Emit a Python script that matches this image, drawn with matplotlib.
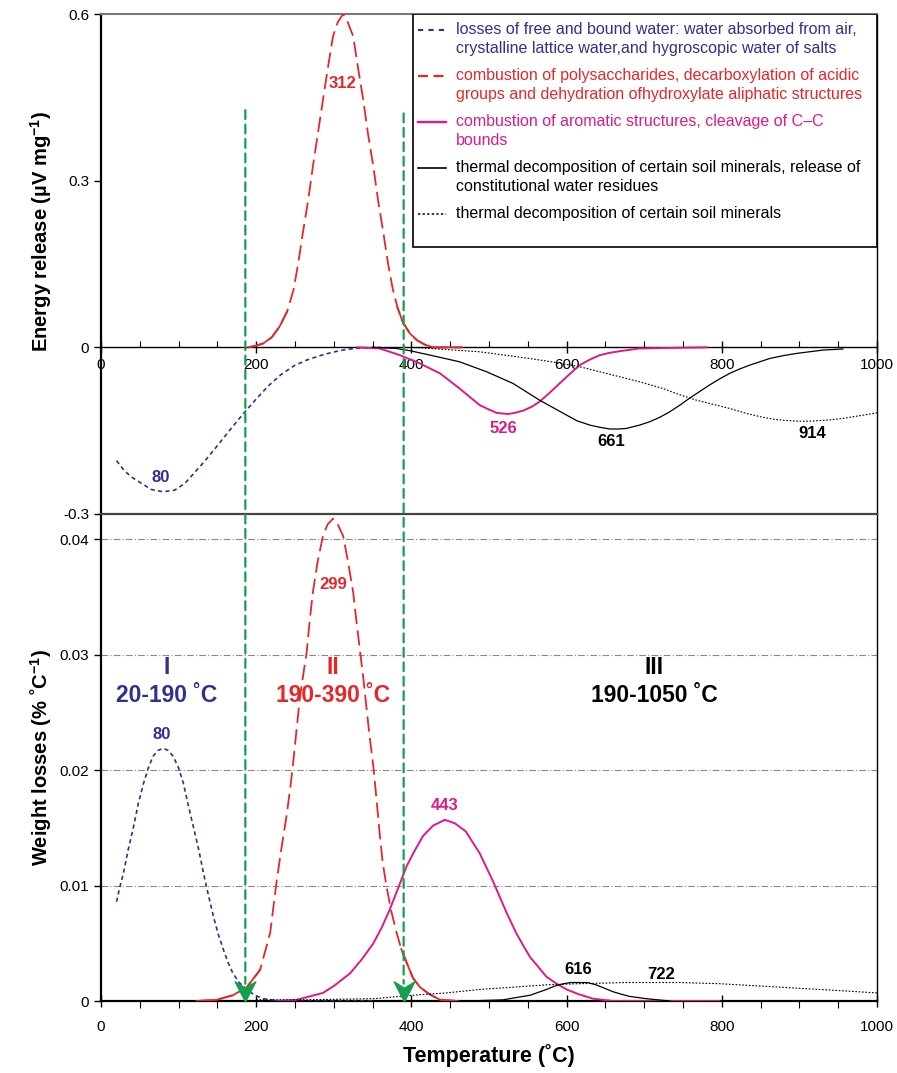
import numpy as np
import matplotlib
matplotlib.use("Agg")
from matplotlib import pyplot as plt
from matplotlib.patches import ConnectionPatch, Rectangle
from matplotlib.path import Path
from matplotlib.ticker import MultipleLocator, FixedLocator, FixedFormatter
import matplotlib.transforms as mtransforms

plt.rcParams['font.family'] = ['Liberation Sans', 'DejaVu Sans']
plt.rcParams['mathtext.fontset'] = 'custom'
plt.rcParams['mathtext.rm'] = 'Liberation Sans'
plt.rcParams['mathtext.bf'] = 'Liberation Sans:bold'

BLUE = '#2e3192'
RED = '#e8262a'
PINK = '#e0198a'
GREEN = '#12a04c'

# ---- energy release (DTA, top panel)
water_e_x = [20, 30, 40, 50, 65, 80, 95, 108, 117, 133, 150, 166, 183, 200, 216, 232,
             249, 265, 282, 298, 315, 328, 340, 360]
water_e_y = [-0.204, -0.222, -0.234, -0.243, -0.256, -0.26, -0.257, -0.245, -0.231,
             -0.206, -0.177, -0.149, -0.12, -0.093, -0.069, -0.049, -0.033, -0.023,
             -0.015, -0.009, -0.004, -0.002, -0.001, 0.0]

poly_e_x = [190, 200, 209, 220, 230, 240, 248, 254, 260, 267, 273, 280, 286, 292, 299,
            305, 312, 318, 325, 331, 338, 344, 351, 357, 364, 370, 376, 382, 389, 398,
            407, 417, 428, 465]
poly_e_y = [0.0, 0.003, 0.007, 0.018, 0.037, 0.065, 0.103, 0.15, 0.205, 0.265, 0.325,
            0.39, 0.445, 0.50, 0.56, 0.585, 0.6, 0.585, 0.56, 0.505, 0.445, 0.385,
            0.325, 0.265, 0.205, 0.15, 0.105, 0.072, 0.045, 0.025, 0.013, 0.005, 0.0,
            0.0]

arom_e_x = [330, 359, 385, 411, 437, 462, 488, 500, 510, 517, 525, 533, 544, 555, 565,
            578, 591, 604, 617, 630, 643, 655, 668, 694, 780]
arom_e_y = [0.0, -0.002, -0.014, -0.029, -0.047, -0.074, -0.104, -0.112, -0.118,
            -0.119, -0.120, -0.118, -0.114, -0.107, -0.098, -0.082, -0.065, -0.048,
            -0.032, -0.022, -0.014, -0.010, -0.007, -0.002, 0.0]

mineral_e_x = [350, 380, 398, 424, 462, 497, 531, 565, 600, 613, 630, 643, 656, 667,
               677, 694, 707, 720, 733, 746, 758, 771, 784, 797, 810, 823, 836, 849,
               862, 879, 896, 913, 930, 956]
mineral_e_y = [0.0, -0.002, -0.006, -0.014, -0.026, -0.044, -0.065, -0.095, -0.122,
               -0.132, -0.14, -0.144, -0.147, -0.147, -0.146, -0.14, -0.134, -0.126,
               -0.116, -0.104, -0.092, -0.080, -0.068, -0.057, -0.047, -0.039, -0.032,
               -0.026, -0.020, -0.015, -0.011, -0.008, -0.005, -0.003]

soil_e_x = [400, 424, 456, 488, 520, 552, 585, 617, 640, 660, 694, 724, 745, 767, 790,
            810, 832, 853, 870, 887, 900, 914, 935, 956, 978, 1000]
soil_e_y = [0.0, -0.002, -0.005, -0.008, -0.014, -0.020, -0.027, -0.035, -0.043,
            -0.050, -0.062, -0.074, -0.085, -0.095, -0.103, -0.110, -0.119, -0.126,
            -0.130, -0.132, -0.133, -0.133, -0.131, -0.128, -0.123, -0.118]

# ---- weight losses (DTG, bottom panel)
water_w_x = [20, 24, 29, 35, 42, 48, 55, 61, 67, 73, 80, 87, 93, 100, 106, 112, 119,
             126, 132, 138, 145, 151, 158, 164, 170, 178, 188, 198, 209, 231, 350]
water_w_y = [0.0086, 0.0098, 0.0111, 0.0131, 0.0151, 0.0171, 0.0189, 0.0202, 0.0212,
             0.0217, 0.0219, 0.0217, 0.0212, 0.0202, 0.0189, 0.0171, 0.0151, 0.0131,
             0.0111, 0.0093, 0.0073, 0.0058, 0.0044, 0.0033, 0.0024, 0.0016, 0.001,
             0.0005, 0.0002, 0.0, 0.0]

poly_w_x = [123, 149, 170, 188, 205, 218, 226, 232, 239, 244, 248, 252, 256, 260, 265,
            269, 273, 279, 286, 292, 299, 305, 312, 318, 325, 329, 334, 338, 342, 346,
            351, 355, 359, 363, 368, 374, 381, 387, 394, 402, 411, 423, 437, 460]
poly_w_y = [0.0, 0.0001, 0.0005, 0.0012, 0.0027, 0.0059, 0.0102, 0.013, 0.016, 0.0185,
            0.0209, 0.0235, 0.0261, 0.028, 0.0302, 0.033, 0.0354, 0.038, 0.0403, 0.0413,
            0.0418, 0.0413, 0.0403, 0.0382, 0.0354, 0.033, 0.0302, 0.028, 0.0255, 0.023,
            0.0203, 0.0175, 0.0146, 0.012, 0.0099, 0.0078, 0.0059, 0.0045, 0.0033,
            0.002, 0.0012, 0.0006, 0.0001, 0.0]

arom_w_x = [226, 252, 286, 300, 321, 336, 351, 362, 372, 383, 394, 404, 415, 428, 443,
            456, 470, 488, 505, 514, 523, 535, 545, 553, 563, 574, 587, 600, 615, 634,
            660, 797]
arom_w_y = [0.0, 0.0001, 0.0007, 0.0013, 0.0024, 0.0036, 0.005, 0.0064, 0.0079, 0.0098,
            0.0117, 0.013, 0.0143, 0.0152, 0.0157, 0.0154, 0.0147, 0.0128, 0.0104, 0.009,
            0.0076, 0.0059, 0.0047, 0.0038, 0.003, 0.0021, 0.0015, 0.001, 0.0006, 0.0002,
            0.0, 0.0]

mineral_w_x = [470, 494, 518, 535, 553, 574, 585, 596, 606, 617, 627, 638, 649, 660, 670,
               681, 703, 733]
mineral_w_y = [0.0, 0.00005, 0.0001, 0.0003, 0.0005, 0.001, 0.0013, 0.0015, 0.0016,
               0.0016, 0.0016, 0.0014, 0.0011, 0.0008, 0.0006, 0.0004, 0.0002, 0.0]

soil_w_x = [200, 260, 351, 402, 445, 488, 531, 574, 617, 677, 746, 797, 849, 900, 952, 1000]
soil_w_y = [0.0001, 0.0001, 0.0002, 0.0005, 0.0007, 0.001, 0.0012, 0.0014, 0.0015,
            0.0016, 0.0016, 0.0015, 0.0013, 0.0011, 0.0009, 0.0007]

# region boundaries (green arrows) and their top in the energy panel
bound_x = [186, 390]
bound_top = [0.427, 0.421]

top_yticks = [-0.3, 0, 0.3, 0.6]
top_ylabels = ['-0.3', '0', '0.3', '0.6']
bot_yticks = [0, 0.01, 0.02, 0.03, 0.04]
bot_ylabels = ['0', '0.01', '0.02', '0.03', '0.04']

legend_labels = [
    'losses of free and bound water: water absorbed from air,\ncrystalline lattice water,and hygroscopic water of salts',
    'combustion of polysaccharides, decarboxylation of acidic\ngroups and dehydration ofhydroxylate aliphatic structures',
    'combustion of aromatic structures, cleavage of C\u2013C\nbounds',
    'thermal decomposition of certain soil minerals, release of\nconstitutional water residues',
    'thermal decomposition of certain soil minerals',
]

# peak labels: (text, x, y, colour)
top_peaks = [('80', 77, -0.235, BLUE), ('312', 311, 0.475, RED),
             ('526', 519, -0.146, PINK), ('661', 658, -0.17, 'black'),
             ('914', 916, -0.156, 'black')]
bot_peaks = [('80', 78, 0.0231, BLUE), ('299', 299, 0.0361, RED),
             ('443', 443, 0.0169, PINK), ('616', 615, 0.0027, 'black'),
             ('722', 722, 0.0023, 'black')]
regions = [('I', '20-190 \u02daC', 85, BLUE), ('II', '190-390 \u02daC', 299, RED),
           ('III', '190-1050 \u02daC', 713, 'black')]

styles = [dict(color=BLUE, lw=1.2, ls=(0, (2.5, 2))),
          dict(color=RED, lw=1.3, ls=(0, (8.5, 3.5))),
          dict(color=PINK, lw=1.4, ls='-'),
          dict(color='black', lw=0.9, ls='-'),
          dict(color='black', lw=0.8, ls=(0, (1.5, 1.5)))]
# the legend swatches are short, so they get their own dash patterns
legend_ls = [(0, (2.5, 2.5)), (0, (4.5, 2.5)), '-', '-', (0, (1.5, 1.5))]

fig = plt.figure(figsize=(8.97, 10.73), dpi=100)
ax1 = fig.add_axes([0.1126, 0.52097, 0.8651, 0.46598])
ax2 = fig.add_axes([0.1126, 0.06710, 0.8651, 0.45387])


def draw_red(ax, xs, ys, thresh):
    xs = np.array(xs)
    ys = np.array(ys)
    ax.plot(xs, ys, **styles[1], zorder=3)
    # the low tails of this curve are drawn solid in the original
    peak = np.argmax(ys)
    left = np.arange(len(ys)) <= peak
    m1 = left & ((ys <= thresh) | np.r_[ys[1:] <= thresh, False])
    m2 = ~left & ((ys <= thresh) | np.r_[False, ys[:-1] <= thresh])
    ax.plot(xs[m1], ys[m1], color=RED, lw=1.3, zorder=3)
    ax.plot(xs[m2], ys[m2], color=RED, lw=1.3, zorder=3)


# ---- top panel
ax1.plot(water_e_x, water_e_y, **styles[0], zorder=3)
draw_red(ax1, poly_e_x, poly_e_y, 0.09)
ax1.plot(arom_e_x, arom_e_y, **styles[2], zorder=3)
ax1.plot(mineral_e_x, mineral_e_y, **styles[3], zorder=3)
ax1.plot(soil_e_x, soil_e_y, **styles[4], zorder=3)

ax1.set_xlim(0, 1000)
ax1.set_ylim(-0.3, 0.6)
ax1.spines['bottom'].set_position(('data', 0))
ax1.spines['bottom'].set_linewidth(1.0)
ax1.spines['top'].set_color('#777777')
ax1.spines['top'].set_linewidth(1.5)
ax1.spines['left'].set_linewidth(1.6)
ax1.spines['right'].set_linewidth(1.0)
ax1.xaxis.set_major_locator(MultipleLocator(200))
ax1.xaxis.set_minor_locator(MultipleLocator(50))
ax1.tick_params(axis='x', which='major', direction='inout', length=9, width=1,
                labelsize=11, pad=3)
ax1.tick_params(axis='x', which='minor', direction='in', length=4, width=0.8)
ax1.yaxis.set_major_locator(FixedLocator(top_yticks))
ax1.yaxis.set_major_formatter(FixedFormatter(top_ylabels))
ax1.tick_params(axis='y', direction='out', length=5, width=1, labelsize=11)
ax1.set_ylabel('Energy release (\u00b5V mg$^{\\mathbf{-1}}$)', fontsize=14.5,
               fontweight='bold')
ax1.yaxis.set_label_coords(-0.06, 0.565)

for txt, x, y, c in top_peaks:
    ax1.text(x, y, txt, color=c, fontsize=12, fontweight='bold',
             ha='center', va='center', zorder=5)

# manual legend box in the top right corner
ax1.add_patch(Rectangle((0.402, 0.535), 0.598, 0.465, transform=ax1.transAxes,
                        facecolor='white', edgecolor='black', lw=1.2, zorder=6))
entry_y = [0.969, 0.877, 0.785, 0.693, 0.601]
for lab, st, lls, ey in zip(legend_labels, styles, legend_ls, entry_y):
    ax1.plot([0.4085, 0.4446], [ey, ey], transform=ax1.transAxes, color=st['color'],
             lw=st['lw'] + 0.3, ls=lls, zorder=7, clip_on=False)
    for i, line in enumerate(lab.split('\n')):
        ax1.text(0.4575, ey - i * 0.0374, line, transform=ax1.transAxes,
                 color=st['color'], fontsize=11.5, ha='left', va='center', zorder=7)

# ---- bottom panel
ax2.plot(water_w_x, water_w_y, **styles[0], zorder=3)
draw_red(ax2, poly_w_x, poly_w_y, 0.0055)
ax2.plot(arom_w_x, arom_w_y, **styles[2], zorder=3)
ax2.plot(mineral_w_x, mineral_w_y, **styles[3], zorder=3)
ax2.plot(soil_w_x, soil_w_y, **styles[4], zorder=3)

ax2.set_xlim(0, 1000)
ax2.set_ylim(0, 0.0422)
for g in bot_yticks[1:]:
    ax2.axhline(g, color='#888888', lw=0.8, ls=(0, (6, 2, 1, 2)), zorder=1)
ax2.spines['top'].set_color('#444444')
ax2.spines['top'].set_linewidth(1.6)
ax2.spines['left'].set_linewidth(1.6)
ax2.spines['bottom'].set_linewidth(1.6)
ax2.spines['right'].set_linewidth(1.0)
ax2.xaxis.set_major_locator(MultipleLocator(200))
ax2.xaxis.set_minor_locator(MultipleLocator(50))
ax2.tick_params(axis='x', which='major', direction='inout', length=9, width=1,
                labelsize=11, pad=9)
ax2.tick_params(axis='x', which='minor', direction='out', length=5, width=0.8)
ax2.yaxis.set_major_locator(FixedLocator(bot_yticks))
ax2.yaxis.set_major_formatter(FixedFormatter(bot_ylabels))
ax2.tick_params(axis='y', direction='out', length=5, width=1, labelsize=11)
ax2.set_ylabel('Weight losses (% \u02daC$^{\\mathbf{-1}}$)', fontsize=14.5,
               fontweight='bold')
ax2.yaxis.set_label_coords(-0.06, 0.5)
ax2.set_xlabel('Temperature (\u02daC)', fontsize=15.5, fontweight='bold')
ax2.xaxis.set_label_coords(0.5, -0.088)

for txt, x, y, c in bot_peaks:
    ax2.text(x, y, txt, color=c, fontsize=12, fontweight='bold',
             ha='center', va='center', zorder=5)
for roman, rng, x, c in regions:
    ax2.text(x, 0.0289, roman, color=c, fontsize=16.5, fontweight='bold',
             ha='center', va='center')
    ax2.text(x, 0.0265, rng, color=c, fontsize=16.5, fontweight='bold',
             ha='center', va='center')

# ---- green region boundaries with arrowheads
chevron = Path([(0, -1), (-0.9, 0.75), (0, 0.2), (0.9, 0.75), (0, -1)],
               [Path.MOVETO, Path.LINETO, Path.LINETO, Path.LINETO, Path.CLOSEPOLY])
ms = 16.5
lift = mtransforms.ScaledTranslation(0, ms / 2 / 72, fig.dpi_scale_trans)
for bx, bt in zip(bound_x, bound_top):
    con = ConnectionPatch(xyA=(bx, bt), coordsA=ax1.transData,
                          xyB=(bx, 0.0015), coordsB=ax2.transData,
                          color=GREEN, lw=1.6, ls=(0, (4, 2.5)), zorder=8)
    fig.add_artist(con)
    ax2.plot([bx], [0], marker=chevron, ms=ms, color=GREEN, mec=GREEN, ls='none',
             transform=ax2.transData + lift, zorder=9, clip_on=False)

fig.savefig('out.png', dpi=100)
